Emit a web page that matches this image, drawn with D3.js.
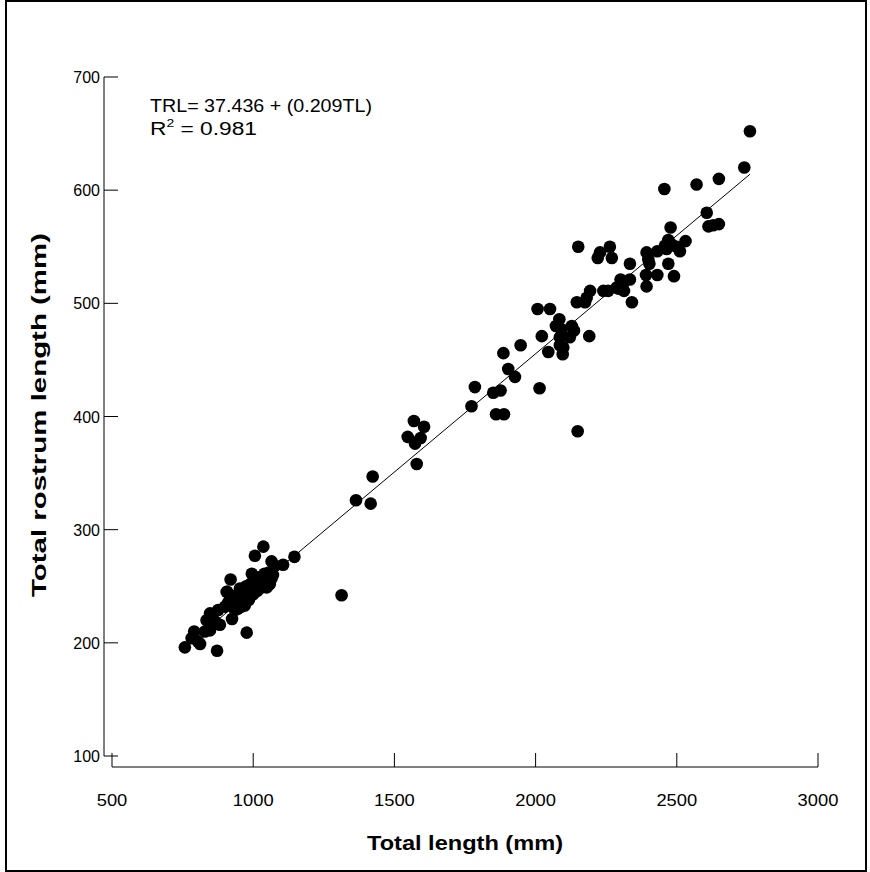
<!DOCTYPE html>
<html>
<head>
<meta charset="utf-8">
<script src="https://cdn.jsdelivr.net/npm/d3@7"></script>
<style>
  body { margin: 0; background: #fff; }
  svg { display: block; font-family: "Liberation Sans", Arial, sans-serif; }
  .tick-label { font-size: 16px; fill: #000; }
  .axis-title { font-size: 20px; font-weight: bold; fill: #000; }
  .note { font-size: 18px; fill: #000; }
</style>
</head>
<body>
<svg id="chart"></svg>
<script>
// Data: total length (mm) vs total rostrum length (mm)
const totalLength = [
    758, 782, 791, 805, 812, 829, 835, 847, 847, 865, 872, 876, 882, 900, 906, 908,
    912, 920, 925, 929, 935, 940, 945, 950, 953, 955, 959, 965, 970, 975, 977, 977,
    980, 985, 990, 995, 995, 1000, 1005, 1006, 1006, 1010, 1015, 1020, 1024, 1025, 1030, 1036,
    1040, 1045, 1048, 1050, 1053, 1055, 1059, 1060, 1065, 1065, 1070, 1077, 1106, 1146,
    1313, 1364, 1416, 1423, 1547, 1569, 1573, 1573, 1579, 1593, 1605,
    1773, 1785, 1850, 1860, 1876, 1886, 1888, 1903, 1927, 1947, 2007, 2014, 2022, 2045, 2051,
    2072, 2084, 2086, 2086, 2092, 2096, 2098, 2121, 2128, 2136, 2146, 2149, 2151, 2175, 2181,
    2190, 2193, 2220, 2228, 2240, 2257, 2263, 2270, 2287, 2293, 2301, 2308, 2313, 2334, 2334,
    2341, 2391, 2393, 2393, 2399, 2403, 2431, 2431, 2456, 2458, 2464, 2470, 2470, 2478, 2482,
    2490, 2500, 2511, 2531, 2570, 2606, 2612, 2629, 2649, 2649, 2739, 2759
];
const rostrumLength = [
    196, 204, 210, 201, 199, 210, 220, 211, 226, 219, 193, 229, 216, 232, 245, 245,
    236, 256, 221, 241, 229, 238, 230, 244, 248, 235, 232, 245, 233, 250, 209, 248,
    245, 238, 252, 248, 261, 243, 255, 277, 255, 250, 246, 258, 252, 253, 249, 285,
    261, 256, 249, 252, 261, 262, 252, 258, 257, 272, 260, 268, 269, 276,
    242, 326, 323, 347, 382, 396, 377, 376, 358, 381, 391,
    409, 426, 421, 402, 423, 456, 402, 442, 435, 463, 495, 425, 471, 457, 495,
    480, 486, 463, 470, 477, 455, 461, 470, 480, 476, 501, 387, 550, 501, 505,
    471, 511, 540, 545, 511, 511, 550, 540, 514, 513, 521, 516, 511, 535, 521,
    501, 525, 545, 515, 539, 535, 546, 525, 601, 551, 548, 556, 535, 567, 552,
    524, 550, 546, 555, 605, 580, 568, 569, 610, 570, 620, 652
];
const points = totalLength.map((d, i) => ({ tl: d, trl: rostrumLength[i] }));

const xTicks = [500, 1000, 1500, 2000, 2500, 3000];
const yTicks = [100, 200, 300, 400, 500, 600, 700];

// regression line from the label
const intercept = 37.436;
const slope = 0.209;

const width = 870, height = 872;

const svg = d3.select('#chart')
    .attr('width', width)
    .attr('height', height);

// frame around the figure
svg.append('rect')
    .attr('x', 6).attr('y', 1)
    .attr('width', 860).attr('height', 870)
    .attr('fill', 'none')
    .attr('stroke', '#000')
    .attr('stroke-width', 2);

const x = d3.scaleLinear().domain([500, 3000]).range([112, 818]);
const y = d3.scaleLinear().domain([100, 700]).range([756, 77]);

const axisX = 104;   // y axis sits left of the plot
const axisY = 767;   // x axis sits below the plot
const tickLen = 14;

// y axis: line + inward ticks
const yAxis = svg.append('g').attr('class', 'y-axis');
yAxis.append('line')
    .attr('x1', axisX).attr('x2', axisX)
    .attr('y1', y(100)).attr('y2', y(700))
    .attr('stroke', '#000');
yAxis.selectAll('.ytick')
    .data(yTicks)
    .enter()
    .append('line')
    .attr('x1', axisX).attr('x2', axisX + tickLen)
    .attr('y1', d => y(d)).attr('y2', d => y(d))
    .attr('stroke', '#000');
yAxis.selectAll('.tick-label')
    .data(yTicks)
    .enter()
    .append('text')
    .attr('class', 'tick-label')
    .attr('x', axisX - 4)
    .attr('y', d => y(d) + 6)
    .attr('text-anchor', 'end')
    .text(d => d);

// x axis: line + ticks pointing up
const xAxis = svg.append('g').attr('class', 'x-axis');
xAxis.append('line')
    .attr('x1', x(500)).attr('x2', x(3000))
    .attr('y1', axisY).attr('y2', axisY)
    .attr('stroke', '#000');
xAxis.selectAll('.xtick')
    .data(xTicks)
    .enter()
    .append('line')
    .attr('x1', d => x(d)).attr('x2', d => x(d))
    .attr('y1', axisY).attr('y2', axisY - tickLen)
    .attr('stroke', '#000');
xAxis.selectAll('.tick-label')
    .data(xTicks)
    .enter()
    .append('text')
    .attr('class', 'tick-label')
    .attr('x', d => x(d))
    .attr('y', axisY + 39)
    .attr('text-anchor', 'middle')
    .attr('textLength', d => String(d).length * 10.2)
    .attr('lengthAdjust', 'spacingAndGlyphs')
    .text(d => d);

// axis titles (stretched like the original)
svg.append('text')
    .attr('class', 'axis-title')
    .attr('x', 465).attr('y', 850)
    .attr('text-anchor', 'middle')
    .attr('textLength', 196)
    .attr('lengthAdjust', 'spacingAndGlyphs')
    .text('Total length (mm)');

svg.append('text')
    .attr('class', 'axis-title')
    .attr('transform', 'translate(46, 415) rotate(-90)')
    .attr('text-anchor', 'middle')
    .attr('textLength', 364)
    .attr('lengthAdjust', 'spacingAndGlyphs')
    .text('Total rostrum length (mm)');

// fitted line over the data range
const [tlMin, tlMax] = d3.extent(totalLength);
svg.append('line')
    .attr('x1', x(tlMin)).attr('y1', y(intercept + slope * tlMin))
    .attr('x2', x(tlMax)).attr('y2', y(intercept + slope * tlMax))
    .attr('stroke', '#000')
    .attr('stroke-width', 1);

// points
svg.append('g')
    .selectAll('circle')
    .data(points)
    .enter()
    .append('circle')
    .attr('cx', d => x(d.tl))
    .attr('cy', d => y(d.trl))
    .attr('r', 6.3)
    .attr('fill', '#000');

// equation text
svg.append('text')
    .attr('class', 'note')
    .attr('x', 150).attr('y', 112)
    .attr('textLength', 222)
    .attr('lengthAdjust', 'spacingAndGlyphs')
    .text('TRL= 37.436 + (0.209TL)');

const r2 = svg.append('text')
    .attr('class', 'note')
    .attr('x', 150).attr('y', 135)
    .attr('textLength', 107)
    .attr('lengthAdjust', 'spacingAndGlyphs');
r2.append('tspan').text('R');
r2.append('tspan').attr('dy', -8).attr('font-size', 11).text('2');
r2.append('tspan').attr('dy', 8).text(' = 0.981');
</script>
</body>
</html>
